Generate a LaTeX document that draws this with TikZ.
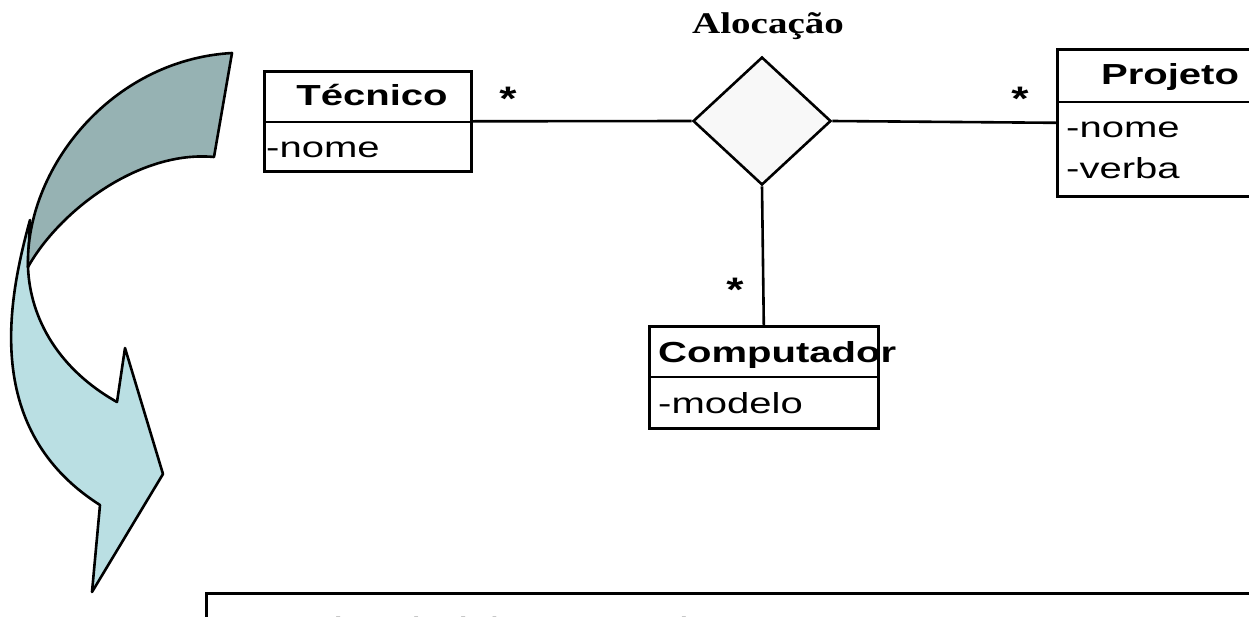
\documentclass[tikz,border=0pt]{standalone}
\usepackage{fontspec}
\usepackage{graphicx}
\setmainfont{Liberation Sans}
\newfontfamily\seriffam{Liberation Serif}
\newfontfamily\monofam{Liberation Mono}
\usetikzlibrary{shapes.geometric}
\definecolor{darkband}{HTML}{96B2B3}
\definecolor{lightband}{HTML}{BADFE3}
\definecolor{diafill}{HTML}{F8F8F8}
\newcommand\hstretch[1]{\scalebox{1.38}[1]{#1}}
\tikzset{
  umlbox/.style={draw, line width=2.6pt, fill=white, inner sep=0pt, anchor=north west},
  conn/.style={line width=2.6pt},
  head/.style={anchor=base, inner sep=0pt, font=\bfseries\fontsize{29}{30}\selectfont},
  attr/.style={anchor=base west, inner sep=0pt, font=\fontsize{29}{30}\selectfont},
  mult/.style={anchor=base, inner sep=0pt, font=\bfseries\fontsize{34}{34}\selectfont},
  band/.style={draw=black, line width=2.6pt, line join=round}
}
\begin{document}
\begin{tikzpicture}[x=1pt,y=-1pt]
\fill[white] (0,0) rectangle (1249,616);
\useasboundingbox (0,0) rectangle (1249,616);

% curved arrow (lower light band first)
\filldraw[band, fill=lightband]
  (30,220) .. controls (8,300) and (-18,430) .. (100,505)
  -- (92,592) -- (163,474) -- (125,348) -- (117,402)
  .. controls (60,370) and (30,320) .. (28,267) -- cycle;
\filldraw[band, fill=darkband]
  (232,53) -- (214,157)
  .. controls (140,150) and (60,210) .. (28,267)
  .. controls (25,170) and (110,60) .. (232,53) -- cycle;

% classes
\node[umlbox, minimum width=207pt, minimum height=100pt] (tec) at (263,70) {};
\draw[conn] (tec.west |- 0,122) -- (tec.east |- 0,122);
\node[head] (tect) at (372,105) {\hstretch{Técnico}};
\node[attr] (teca) at (266,157) {\hstretch{-nome}};

\node[umlbox, minimum width=230pt, minimum height=147pt] (proj) at (1056,48) {};
\draw[conn] (proj.west |- 0,102) -- (proj.east |- 0,102);
\node[head] (projt) at (1170,84) {\hstretch{Projeto}};
\node[attr] (proja) at (1066,137) {\hstretch{-nome}};
\node[attr] (projb) at (1066,178) {\hstretch{-verba}};

\node[umlbox, minimum width=229pt, minimum height=102pt] (comp) at (648,325) {};
\draw[conn] (comp.west |- 0,377) -- (comp.east |- 0,377);
\node[attr, font=\bfseries\fontsize{29}{30}\selectfont] (compt) at (658,362) {\hstretch{Computador}};
\node[attr] (compa) at (658,413) {\hstretch{-modelo}};

% association diamond
\node[draw, line width=2.6pt, fill=diafill, shape=diamond, inner sep=0pt,
      minimum width=138pt, minimum height=128pt] (dia) at (762,121) {};
\node[anchor=base, inner sep=0pt, font=\seriffam\bfseries\fontsize{30}{30}\selectfont] (diat) at (768,33) {\scalebox{1.3}[1]{Alocação}};

% connectors
\draw[conn] (tec.east) -- (dia.west);
\draw[conn] (dia.east) -- (proj.west);
\draw[conn] (dia.south) -- (comp.north);

% multiplicities
\node[mult] (m1) at (508,110) {\scalebox{1.3}[1]{*}};
\node[mult] (m2) at (1020,110) {\scalebox{1.3}[1]{*}};
\node[mult] (m3) at (735,301) {\scalebox{1.3}[1]{*}};

% bottom box (cut off)
\node[umlbox, minimum width=1100pt, minimum height=200pt] (rel) at (205,592) {};
\node[anchor=base west, inner sep=0pt, font=\monofam\fontsize{41.7}{42}\selectfont] (relt) at (225,647) {Técnico(cid, nome )};
\end{tikzpicture}
\end{document}
